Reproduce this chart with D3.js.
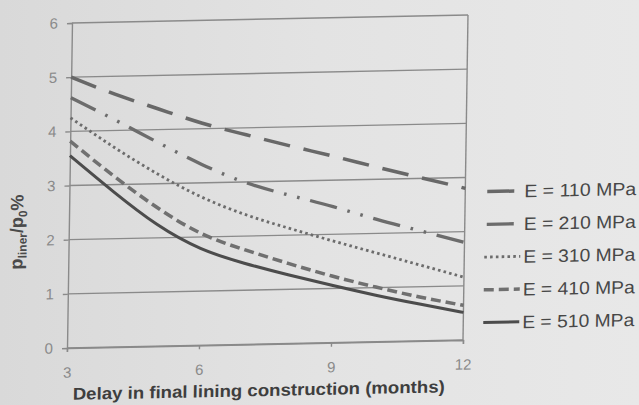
<!DOCTYPE html>
<html>
<head>
<meta charset="utf-8">
<script src="https://cdn.jsdelivr.net/npm/d3@7"></script>
<style>
  html, body { margin: 0; padding: 0; background: #e3e3e3; }
  svg { display: block; }
</style>
</head>
<body>
<svg id="chart" width="639" height="405"></svg>
<script>
// ---- data ----
const months = [3, 4, 5, 6, 7, 8, 9, 10, 11, 12];
const e110 = [5.00, 4.67, 4.38, 4.10, 3.87, 3.65, 3.44, 3.22, 3.01, 2.80];
const e210 = [4.62, 4.20, 3.76, 3.34, 2.99, 2.74, 2.51, 2.26, 2.03, 1.80];
const e310 = [4.25, 3.69, 3.18, 2.74, 2.40, 2.13, 1.88, 1.64, 1.40, 1.16];
const e410 = [3.82, 3.16, 2.56, 2.07, 1.75, 1.48, 1.23, 1.01, 0.81, 0.64];
const e510 = [3.55, 2.87, 2.25, 1.79, 1.50, 1.27, 1.06, 0.86, 0.68, 0.51];
const seriesNames = ["E = 110 MPa", "E = 210 MPa", "E = 310 MPa", "E = 410 MPa", "E = 510 MPa"];
const xTicks = [3, 6, 9, 12];
const yTicks = [0, 1, 2, 3, 4, 5, 6];
const xTitle = "Delay in final lining construction (months)";

// ---- styles ----
const styles = [
  { color: "#686868", width: 3.5, dash: "27,14" },
  { color: "#6c6c6c", width: 3.3, dash: "28,11,2.6,11,2.6,11" },
  { color: "#6c6c6c", width: 2.8, dash: "2.6,3.2" },
  { color: "#707070", width: 3.5, dash: "10,5" },
  { color: "#4c4c4c", width: 3.0, dash: null }
];
const seriesValues = [e110, e210, e310, e410, e510];

const svg = d3.select("#chart");
const defs = svg.append("defs");
const grad = defs.append("linearGradient").attr("id", "bg").attr("x1", "0").attr("x2", "1").attr("y1", "0").attr("y2", "0");
grad.append("stop").attr("offset", "0").attr("stop-color", "#d9d9d9");
grad.append("stop").attr("offset", "0.5").attr("stop-color", "#e3e3e3");
grad.append("stop").attr("offset", "1").attr("stop-color", "#e8e8e8");
svg.append("rect").attr("width", 639).attr("height", 405).attr("fill", "url(#bg)");

// slight photographic skew of the reference
const root = svg.append("g").attr("transform", "matrix(1,-0.0202,-0.01534,1,5.34,1.354)");

const pLeft = 67, pRight = 463, pTop = 23, pBottom = 348;
const x = d3.scaleLinear().domain([3, 12]).range([pLeft, pRight]);
const y = d3.scaleLinear().domain([0, 6]).range([pBottom, pTop]);

const gridColor = "#8a8a8a";
const font = "'Liberation Sans', Arial, sans-serif";

// horizontal gridlines
root.append("g").selectAll("line").data(yTicks).join("line")
  .attr("x1", pLeft).attr("x2", pRight)
  .attr("y1", d => y(d)).attr("y2", d => y(d))
  .attr("stroke", gridColor).attr("stroke-width", 1.4);
// right frame
root.append("line").attr("x1", pRight).attr("x2", pRight).attr("y1", pTop).attr("y2", pBottom)
  .attr("stroke", gridColor).attr("stroke-width", 1.4);

// y axis
const yAxis = root.append("g").attr("transform", `translate(${pLeft},0)`)
  .call(d3.axisLeft(y).tickValues(yTicks).tickFormat(d3.format("d")).tickSize(5).tickPadding(9));
yAxis.select(".domain").attr("stroke", gridColor).attr("stroke-width", 1.4);
yAxis.selectAll(".tick line").attr("stroke", gridColor).attr("stroke-width", 1.4);
yAxis.selectAll(".tick text").attr("fill", "#8a8a8a").style("font-family", font).style("font-size", "15px");

// x axis
const xAxis = root.append("g").attr("transform", `translate(0,${pBottom})`)
  .call(d3.axisBottom(x).tickValues(xTicks).tickFormat(d3.format("d")).tickSize(4).tickPadding(15));
xAxis.select(".domain").attr("stroke", gridColor).attr("stroke-width", 1.4);
xAxis.selectAll(".tick line").attr("stroke", gridColor).attr("stroke-width", 1.4);
xAxis.selectAll(".tick text").attr("fill", "#8a8a8a").style("font-family", font).style("font-size", "15px");

// series
const line = d3.line().x((d, i) => x(months[i])).y(d => y(d)).curve(d3.curveNatural);
root.append("g").selectAll("path").data(seriesValues).join("path")
  .attr("d", d => line(d))
  .attr("fill", "none")
  .attr("stroke", (d, i) => styles[i].color)
  .attr("stroke-width", (d, i) => styles[i].width)
  .attr("stroke-dasharray", (d, i) => styles[i].dash);

// legend
const lg = root.append("g");
const ly0 = 200, lstep = 32.75;
seriesNames.forEach((name, i) => {
  const yy = ly0 + i * lstep;
  const s = styles[i];
  const x1 = i < 2 ? 485 : 483, x2 = i < 2 ? 512 : 519;
  lg.append("line").attr("x1", x1).attr("x2", x2).attr("y1", yy).attr("y2", yy)
    .attr("stroke", s.color).attr("stroke-width", s.width)
    .attr("stroke-dasharray", s.dash);
  lg.append("text").attr("x", 522).attr("y", yy + 6.4)
    .attr("fill", "#474747").style("font-family", font).style("font-size", "18px")
    .attr("textLength", 112).attr("lengthAdjust", "spacingAndGlyphs")
    .text(name);
});

// x title
root.append("text").attr("x", 73.5).attr("y", 400)
  .attr("fill", "#3e3e3e").style("font-family", font).style("font-size", "17px").style("font-weight", "bold")
  .attr("textLength", 372).attr("lengthAdjust", "spacingAndGlyphs")
  .text(xTitle);

// y title: p_liner / p_0 %
const yt = root.append("text").attr("transform", "translate(21,231) rotate(-90)")
  .attr("text-anchor", "middle")
  .attr("fill", "#4a4a4a").style("font-family", font).style("font-size", "18px").style("font-weight", "bold");
yt.append("tspan").text("p");
yt.append("tspan").attr("dy", 4).style("font-size", "12px").text("liner");
yt.append("tspan").attr("dy", -4).text("/p");
yt.append("tspan").attr("dy", 4).style("font-size", "12px").text("0");
yt.append("tspan").attr("dy", -4).text("%");
</script>
</body>
</html>
